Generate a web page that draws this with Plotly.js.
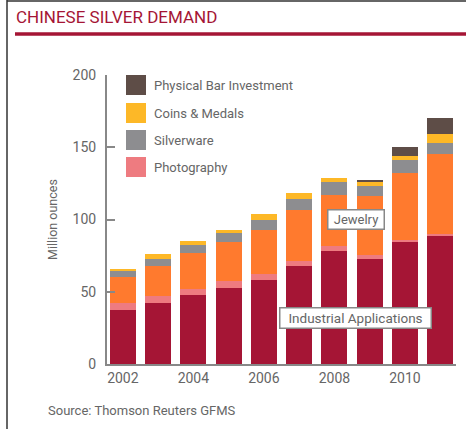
<!DOCTYPE html>
<html><head><meta charset="utf-8">
<script src="https://cdn.plot.ly/plotly-3.0.1.min.js"></script>
<style>html,body{margin:0;padding:0;background:#fff}#chart{width:466px;height:429px}</style>
</head><body><div id="chart"></div>
<script>
const years = [2002,2003,2004,2005,2006,2007,2008,2009,2010,2011];
const industrial  = [37.5,42.5,47.5,52.5,58,67.5,78.5,73,84.5,88.5];
const photography = [4.5,4.5,4.5,5,4.5,3.5,3,2.5,1.5,1.5];
const jewelry     = [18,21,25,27,30,35.5,35.5,41,46,55.5];
const silverware  = [4.5,4.5,5.5,6,7.5,8,9,6.5,9,7.5];
const coins       = [1.5,3.5,2.5,2.5,3.5,3.5,3,3,3,6.5];
const physical    = [0,0,0,0,0,0,0,1.3,6,10.5];
const tickYears = [2002,2004,2006,2008,2010];
const yTicks = [0,50,100,150,200];
const legendNames = ["Physical Bar Investment","Coins & Medals","Silverware","Photography"];

const W=466,H=429, L=107, R=456, T=75, B=364;
const px = x => (x-L)/(R-L);
const py = y => (B-y)/(B-T);

const series = [
  ["Industrial Applications", industrial, "#A51535"],
  ["Photography", photography, "#EE7B80"],
  ["Jewelry", jewelry, "#FF7A2E"],
  ["Silverware", silverware, "#8D8D90"],
  ["Coins & Medals", coins, "#FDB827"],
  ["Physical Bar Investment", physical, "#5E4D47"]
];
const colorOf = {}; series.forEach(s=>colorOf[s[0]]=s[2]);
const traces = series.map(s=>({type:'bar', name:s[0], x:years, y:s[1], marker:{color:s[2], line:{width:0}}, hoverinfo:'skip'}));

const F = "Roboto, 'Noto Sans', sans-serif";
const shapes = [
  {type:'line', xref:'paper', yref:'paper', x0:px(7), x1:px(7), y0:py(0), y1:py(429), line:{color:'#333', width:1.5}},
  {type:'line', xref:'paper', yref:'paper', x0:px(7), x1:px(466), y0:py(1), y1:py(1), line:{color:'#333', width:1.5}},
  {type:'line', xref:'paper', yref:'paper', x0:px(15), x1:px(466), y0:py(34), y1:py(34), line:{color:'#A51535', width:3.5}}
];
const annotations = [
  {xref:'paper', yref:'paper', x:px(14), y:py(17), xanchor:'left', yanchor:'middle', text:'CHINESE SILVER DEMAND', showarrow:false, font:{family:F, size:17, color:'#A51535'}},
  {xref:'paper', yref:'paper', x:px(46), y:py(410), xanchor:'left', yanchor:'middle', text:'Source: Thomson Reuters GFMS', showarrow:false, font:{family:F, size:13, color:'#666'}},
  {xref:'paper', yref:'paper', x:px(355.5), y:py(219.5), xanchor:'center', yanchor:'middle', text:'Jewelry', width:53, height:16, align:'center', showarrow:false, font:{family:F, size:13, color:'#666'}, bgcolor:'#fff', bordercolor:'#888', borderwidth:1.5, borderpad:1},
  {xref:'paper', yref:'paper', x:px(355), y:py(317.5), xanchor:'center', yanchor:'middle', text:'Industrial Applications', width:148, height:17, align:'center', showarrow:false, font:{family:F, size:13.5, color:'#666'}, bgcolor:'#fff', bordercolor:'#888', borderwidth:1.5, borderpad:1}
];
const legTop = [75,103,130,157];
legendNames.forEach((n,i)=>{
  shapes.push({type:'rect', xref:'paper', yref:'paper', x0:px(126), x1:px(146), y0:py(legTop[i]), y1:py(legTop[i]+20), fillcolor:colorOf[n], line:{width:0}});
  annotations.push({xref:'paper', yref:'paper', x:px(152), y:py(legTop[i]+10), xanchor:'left', yanchor:'middle', text:n, showarrow:false, font:{family:F, size:13, color:'#666'}});
});

const layout = {
  width:W, height:H, margin:{l:L, r:W-R, t:T, b:H-B, pad:0},
  paper_bgcolor:'#fff', plot_bgcolor:'#fff',
  barmode:'stack', bargap:0.26, showlegend:false,
  font:{family:F, color:'#666'},
  xaxis:{range:[2001.55,2011.45], tickvals:tickYears, ticktext:tickYears.map(String), showgrid:false, zeroline:false, showline:true, linecolor:'#888', linewidth:2, ticks:'', tickfont:{family:F, size:14, color:'#666'}, fixedrange:true},
  yaxis:{range:[0,200], tickvals:yTicks, showgrid:false, zeroline:false, showline:true, linecolor:'#888', linewidth:2, ticks:'inside', ticklen:8, tickwidth:2, tickcolor:'#888', tickfont:{family:F, size:14, color:'#666'}, ticklabelstandoff:6,
    title:{text:'Million ounces', font:{family:F, size:12.5, color:'#666'}, standoff:12}, fixedrange:true},
  shapes, annotations
};
Plotly.newPlot('chart', traces, layout, {staticPlot:true, displayModeBar:false});
</script></body></html>
